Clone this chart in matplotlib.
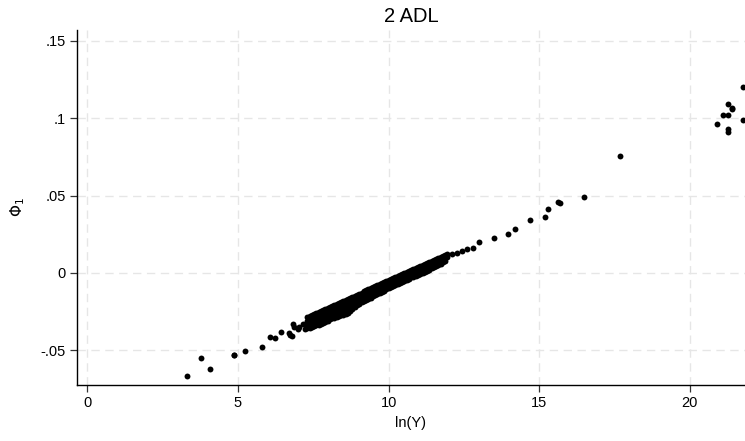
import matplotlib
matplotlib.use("Agg")
import matplotlib.pyplot as plt

plt.rcParams['font.family'] = ['Liberation Sans', 'DejaVu Sans']

# isolated points
tail_x = [3.30, 3.77, 4.08, 4.86, 4.88, 5.24, 5.80, 6.07, 6.23, 6.43, 6.68, 6.71, 6.79,
          6.82, 6.86, 6.99, 7.04, 7.16, 7.24,
          12.10, 12.27, 12.43, 12.60, 12.80, 13.00, 13.51, 13.96, 14.21, 14.68, 15.19,
          15.29, 15.63, 15.69, 16.47, 17.68,
          20.89, 21.09, 21.27, 21.27, 21.39, 21.41, 21.27, 21.27, 21.77, 21.77]
tail_y = [-0.0666, -0.0550, -0.0623, -0.0533, -0.0529, -0.0509, -0.0477, -0.0414, -0.0425,
          -0.0380, -0.0390, -0.0403, -0.0412, -0.0332, -0.0353, -0.0364, -0.0349, -0.0332,
          -0.0364,
          0.0123, 0.0125, 0.0140, 0.0152, 0.0162, 0.0200, 0.0224, 0.0250, 0.0283, 0.0343,
          0.0364, 0.0416, 0.0459, 0.0451, 0.0492, 0.0757,
          0.0964, 0.1022, 0.1022, 0.1089, 0.1067, 0.1059, 0.0929, 0.0914, 0.1203, 0.0988]

# dense band of points
cluster_x = [7.30, 7.30, 7.30, 7.30, 7.45, 7.45, 7.45, 7.45, 7.60, 7.60, 7.60, 7.60,
             7.75, 7.75, 7.75, 7.75, 7.90, 7.90, 7.90, 7.90, 8.05, 8.05, 8.05, 8.05,
             8.20, 8.20, 8.20, 8.20, 8.35, 8.35, 8.35, 8.35, 8.50, 8.50, 8.50, 8.50,
             8.65, 8.65, 8.65, 8.65, 8.80, 8.80, 8.80, 8.80, 8.95, 8.95, 8.95, 8.95,
             9.10, 9.10, 9.10, 9.10, 9.25, 9.25, 9.25, 9.25, 9.40, 9.40, 9.40, 9.40,
             9.55, 9.55, 9.55, 9.55, 9.70, 9.70, 9.70, 9.70, 9.85, 9.85, 9.85,
             10.00, 10.00, 10.00, 10.15, 10.15, 10.15, 10.30, 10.30, 10.30,
             10.45, 10.45, 10.45, 10.60, 10.60, 10.60, 10.75, 10.75, 10.75,
             10.90, 10.90, 10.90, 11.05, 11.05, 11.05, 11.20, 11.20, 11.20,
             11.35, 11.35, 11.35, 11.50, 11.50, 11.50, 11.65, 11.65, 11.65,
             11.80, 11.80, 11.80, 11.95, 11.95]
cluster_y = [-0.0286, -0.0310, -0.0335, -0.0360, -0.0273, -0.0300, -0.0325, -0.0350,
             -0.0260, -0.0287, -0.0313, -0.0340, -0.0246, -0.0274, -0.0302, -0.0330,
             -0.0233, -0.0262, -0.0291, -0.0320, -0.0220, -0.0247, -0.0273, -0.0300,
             -0.0207, -0.0234, -0.0262, -0.0290, -0.0194, -0.0222, -0.0251, -0.0280,
             -0.0180, -0.0210, -0.0240, -0.0270, -0.0167, -0.0198, -0.0229, -0.0260,
             -0.0154, -0.0181, -0.0208, -0.0235, -0.0141, -0.0164, -0.0187, -0.0210,
             -0.0128, -0.0149, -0.0170, -0.0190, -0.0114, -0.0134, -0.0155, -0.0175,
             -0.0101, -0.0121, -0.0140, -0.0160, -0.0088, -0.0107, -0.0126, -0.0145,
             -0.0075, -0.0093, -0.0112, -0.0130, -0.0062, -0.0088, -0.0115,
             -0.0048, -0.0074, -0.0100, -0.0035, -0.0060, -0.0085, -0.0022, -0.0047, -0.0072,
             -0.0009, -0.0034, -0.0060, 0.0004, -0.0020, -0.0045, 0.0018, -0.0006, -0.0030,
             0.0031, 0.0007, -0.0018, 0.0044, 0.0019, -0.0006, 0.0057, 0.0032, 0.0006,
             0.0070, 0.0045, 0.0020, 0.0084, 0.0059, 0.0035, 0.0097, 0.0073, 0.0050,
             0.0110, 0.0089, 0.0068, 0.0123, 0.0100]

# second set of band points, lying between the columns above
cluster2_x = [7.375, 7.375, 7.375, 7.375, 7.525, 7.525, 7.525, 7.525,
              7.675, 7.675, 7.675, 7.675, 7.825, 7.825, 7.825, 7.825,
              7.975, 7.975, 7.975, 7.975, 8.125, 8.125, 8.125, 8.125,
              8.275, 8.275, 8.275, 8.275, 8.425, 8.425, 8.425, 8.425,
              8.575, 8.575, 8.575, 8.575, 8.725, 8.725, 8.725, 8.725,
              8.875, 8.875, 8.875, 8.875, 9.025, 9.025, 9.025, 9.025,
              9.175, 9.175, 9.175, 9.175, 9.325, 9.325, 9.325, 9.325,
              9.475, 9.475, 9.475, 9.475, 9.625, 9.625, 9.625, 9.625,
              9.775, 9.775, 9.775, 9.925, 9.925, 9.925, 10.075, 10.075, 10.075,
              10.225, 10.225, 10.225, 10.375, 10.375, 10.375, 10.525, 10.525, 10.525,
              10.675, 10.675, 10.675, 10.825, 10.825, 10.825, 10.975, 10.975, 10.975,
              11.125, 11.125, 11.125, 11.275, 11.275, 11.275, 11.425, 11.425, 11.425,
              11.575, 11.575, 11.575, 11.725, 11.725, 11.725, 11.875, 11.875, 11.875]
cluster2_y = [-0.0279, -0.0305, -0.0330, -0.0355, -0.0266, -0.0292, -0.0319, -0.0345,
              -0.0253, -0.0280, -0.0308, -0.0335, -0.0240, -0.0268, -0.0297, -0.0325,
              -0.0227, -0.0255, -0.0283, -0.0310, -0.0213, -0.0240, -0.0268, -0.0295,
              -0.0200, -0.0228, -0.0257, -0.0285, -0.0187, -0.0216, -0.0246, -0.0275,
              -0.0174, -0.0204, -0.0235, -0.0265, -0.0161, -0.0190, -0.0219, -0.0248,
              -0.0147, -0.0172, -0.0197, -0.0222, -0.0134, -0.0156, -0.0178, -0.0200,
              -0.0121, -0.0142, -0.0162, -0.0183, -0.0108, -0.0128, -0.0148, -0.0168,
              -0.0095, -0.0114, -0.0134, -0.0153, -0.0081, -0.0100, -0.0119, -0.0138,
              -0.0068, -0.0096, -0.0123, -0.0055, -0.0082, -0.0108, -0.0042, -0.0067, -0.0093,
              -0.0029, -0.0054, -0.0079, -0.0015, -0.0041, -0.0066, -0.0002, -0.0027, -0.0053,
              0.0011, -0.0013, -0.0038, 0.0024, 0.0000, -0.0024, 0.0037, 0.0013, -0.0012,
              0.0051, 0.0025, 0.0000, 0.0064, 0.0038, 0.0013, 0.0077, 0.0052, 0.0028,
              0.0090, 0.0066, 0.0043, 0.0103, 0.0081, 0.0059, 0.0117, 0.0097, 0.0078]

x_ticks = [0, 5, 10, 15, 20]
x_ticklabels = ["0", "5", "10", "15", "20"]
y_ticks = [-0.05, 0, 0.05, 0.10, 0.15]
y_ticklabels = ["-.05", "0", ".05", ".1", ".15"]

W, H = 745, 441
fig = plt.figure(figsize=(W / 100, H / 100), dpi=100)
ax = fig.add_axes([77 / W, 1 - 385 / H, (W - 77) / W, (385 - 30) / H])

for xs, ys in [(cluster_x, cluster_y), (cluster2_x, cluster2_y), (tail_x, tail_y)]:
    ax.scatter(xs, ys, s=18, color="black", linewidths=0, zorder=3)

ax.set_xlim(-0.345, 21.83)
ax.set_ylim(-0.0726, 0.1571)

ax.set_xticks(x_ticks)
ax.set_xticklabels(x_ticklabels)
ax.set_yticks(y_ticks)
ax.set_yticklabels(y_ticklabels)

ax.grid(True, color="#e6e6e6", linestyle=(0, (6, 4)), linewidth=1.0, zorder=0)
ax.set_axisbelow(True)

for side in ["top", "right"]:
    ax.spines[side].set_visible(False)
for side in ["left", "bottom"]:
    ax.spines[side].set_linewidth(1.0)
    ax.spines[side].set_color("black")

ax.tick_params(axis="both", direction="out", length=5, width=0.9, color="#333333",
               labelsize=10.5, labelcolor="black", pad=3)

ax.set_xlabel("ln(Y)", fontsize=10.5, labelpad=4)
fig.text(18 / W, 1 - 207 / H, r"$\Phi_1$", rotation=90, fontsize=11,
         ha="center", va="center")

ax.set_title("2 ADL", fontsize=14.5, pad=6)

fig.savefig("out.png", dpi=100, facecolor="white")
